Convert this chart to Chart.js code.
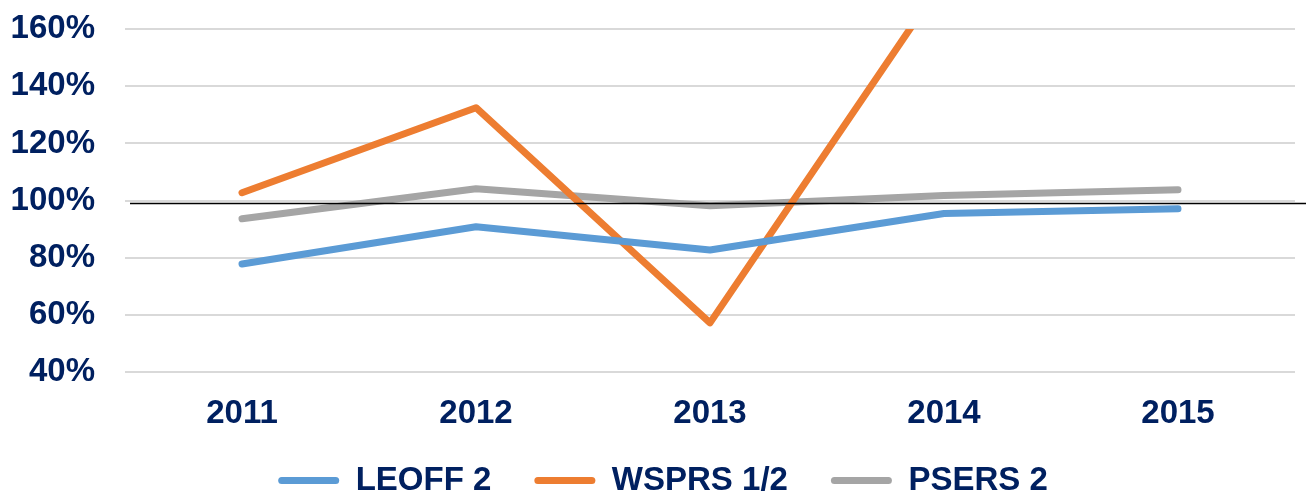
<!DOCTYPE html>
<html>
<head>
<meta charset="utf-8">
<script src="https://cdn.jsdelivr.net/npm/chart.js@4/dist/chart.umd.min.js"></script>
<style>
  html, body { margin: 0; padding: 0; background: #fff; }
  #wrap { width: 1306px; height: 494px; position: relative; }
</style>
</head>
<body>
<div id="wrap"><canvas id="chart"></canvas></div>
<script>
// --- data ---
const years = ['2011', '2012', '2013', '2014', '2015'];
const leoff2 = [77.9, 90.9, 82.8, 95.5, 97.2];
const wsprs12 = [102.8, 132.5, 57.3, 177.5, 190];
const psers2 = [93.7, 104.2, 98.2, 101.8, 103.8];
const REF_LINE = 99;   // thin black line drawn across the plot

const NAVY = '#002060';
const FONT = '"Liberation Sans", Arial, sans-serif';

// thin black reference line, runs from the plot to the right edge of the canvas
const refLinePlugin = {
    id: 'refLine',
    afterDatasetsDraw(chart) {
        const y = chart.scales.y.getPixelForValue(REF_LINE);
        const ctx = chart.ctx;
        ctx.save();
        ctx.strokeStyle = '#000';
        ctx.lineWidth = 1.5;
        ctx.beginPath();
        ctx.moveTo(chart.chartArea.left + 5, y);
        ctx.lineTo(chart.width, y);
        ctx.stroke();
        ctx.restore();
    }
};

// small nudge so the legend sits where it does in the picture
const legendNudge = {
    id: 'legendNudge',
    afterLayout(chart) {
        const lg = chart.legend;
        lg.left += 10; lg.right += 10;
        lg.top -= 35; lg.bottom -= 35;
    }
};

function line(label, data, color) {
    return {
        label: label,
        data: data,
        borderColor: color,
        backgroundColor: color,
        borderWidth: 7,
        borderCapStyle: 'round',
        borderJoinStyle: 'round',
        pointRadius: 0,
        tension: 0,
        fill: false
    };
}

new Chart(document.getElementById('chart'), {
    type: 'line',
    data: {
        labels: years,
        datasets: [
            line('LEOFF 2', leoff2, '#5B9BD5'),
            line('WSPRS 1/2', wsprs12, '#ED7D31'),
            line('PSERS 2', psers2, '#A5A5A5')
        ]
    },
    options: {
        responsive: true,
        maintainAspectRatio: false,
        animation: false,
        layout: { padding: { top: 29, left: 11, right: 11, bottom: -48 } },
        plugins: {
            tooltip: { enabled: false },
            legend: {
                position: 'bottom',
                labels: {
                    color: NAVY,
                    font: { family: FONT, size: 33, weight: 'bold' },
                    boxWidth: 61,
                    boxHeight: 7,
                    padding: 43,
                    useBorderRadius: true,
                    borderRadius: 3.5,
                    generateLabels(chart) {
                        const items = Chart.defaults.plugins.legend.labels.generateLabels(chart);
                        items.forEach(it => { it.lineWidth = 0; });
                        return items;
                    }
                }
            }
        },
        scales: {
            x: {
                offset: true,
                grid: { display: false, drawTicks: false },
                border: { display: false },
                ticks: {
                    color: NAVY,
                    padding: 22,
                    font: { family: FONT, size: 33, weight: 'bold' }
                }
            },
            y: {
                min: 40,
                max: 160,
                grid: { color: '#D9D9D9', lineWidth: 2, drawTicks: false },
                border: { display: false },
                afterFit(scale) {
                    scale.width = 114;
                    scale.paddingTop = 0;
                    scale.paddingBottom = 0;
                },
                ticks: {
                    stepSize: 20,
                    color: NAVY,
                    padding: 30,
                    font: { family: FONT, size: 33, weight: 'bold' },
                    callback: v => v + '%'
                }
            }
        }
    },
    plugins: [refLinePlugin, legendNudge]
});
</script>
</body>
</html>
